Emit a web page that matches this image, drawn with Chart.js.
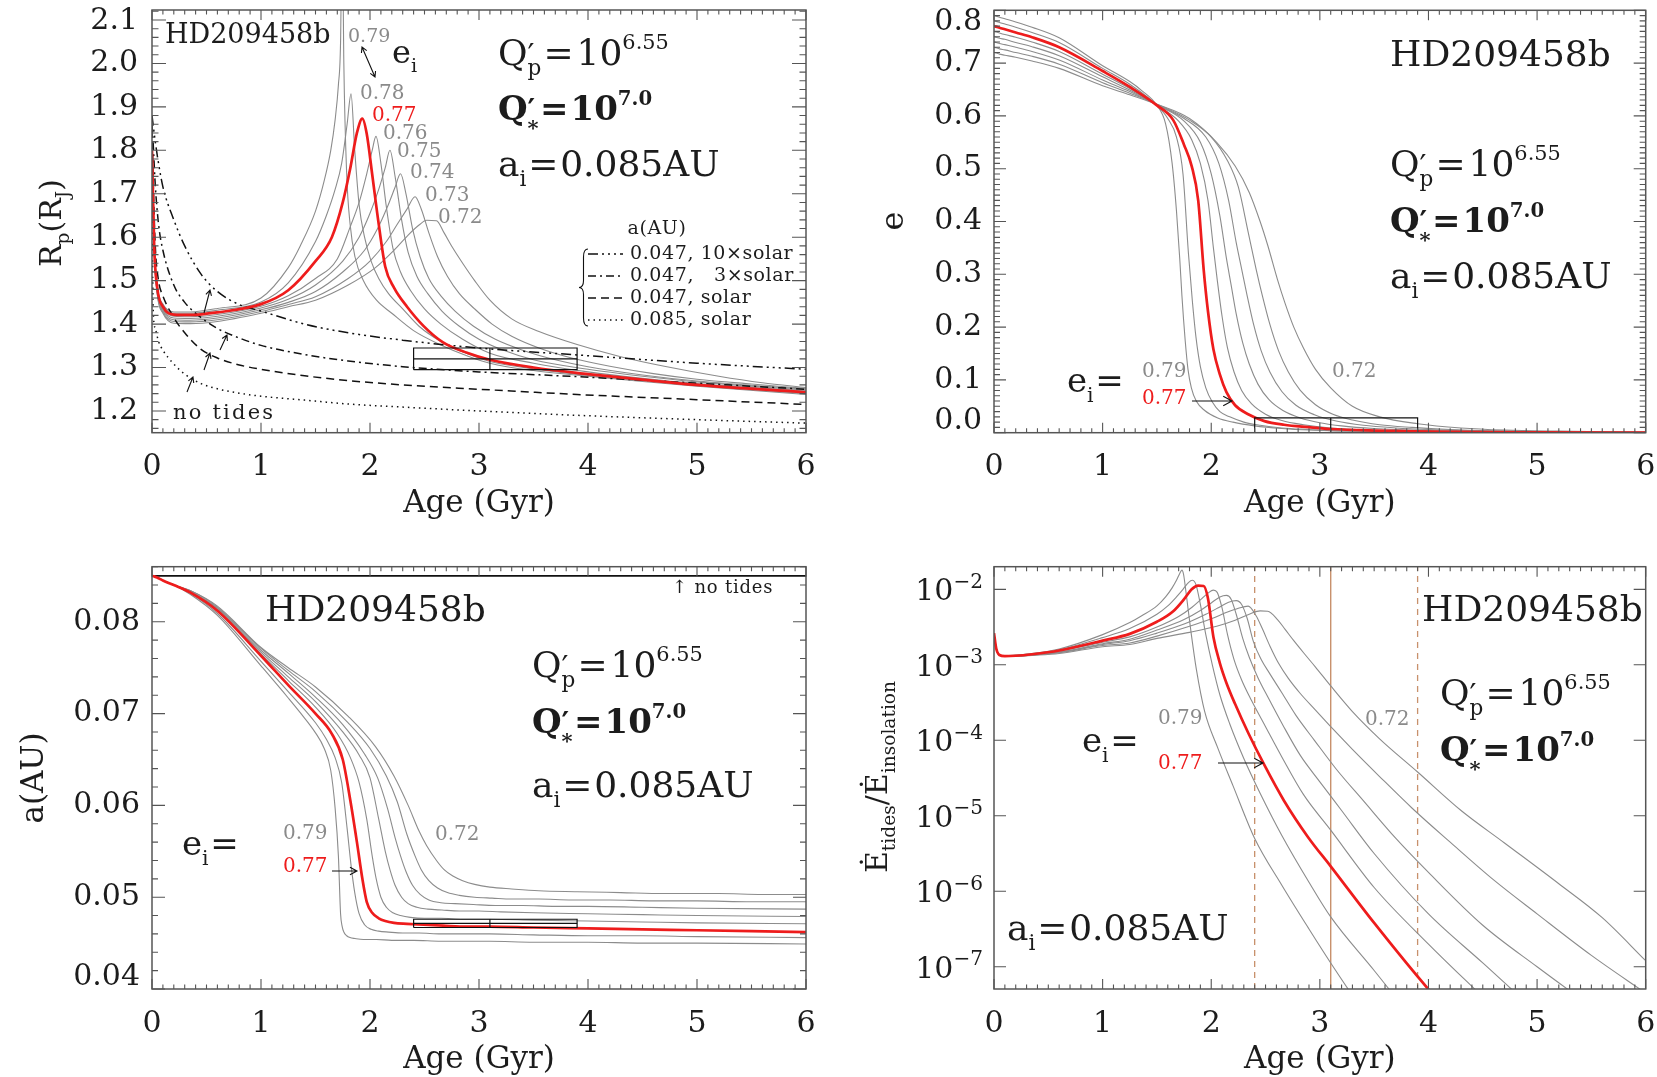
<!DOCTYPE html>
<html>
<head>
<meta charset="utf-8">
<title>HD209458b tidal evolution</title>
<script src="https://cdn.jsdelivr.net/npm/chart.js@4.4.1/dist/chart.umd.min.js"></script>
<style>
html,body{margin:0;padding:0;background:#fff;}
body{width:1657px;height:1077px;position:relative;overflow:hidden;}
.pane{position:absolute;}
</style>
</head>
<body>
<div class="pane" id="w1" style="left:0px;top:0px;width:828px;height:540px"><canvas id="c1"></canvas></div>
<div class="pane" id="w2" style="left:830px;top:0px;width:827px;height:540px"><canvas id="c2"></canvas></div>
<div class="pane" id="w3" style="left:0px;top:540px;width:828px;height:537px"><canvas id="c3"></canvas></div>
<div class="pane" id="w4" style="left:830px;top:540px;width:827px;height:537px"><canvas id="c4"></canvas></div>
<script>
// ---------------- DATA ----------------
const ECC_LABELS = ['0.79','0.78','0.77','0.76','0.75','0.74','0.73','0.72'];

const age_079 = [0,0.02,0.05,0.1,0.2,0.35,0.6,1.0,1.25,1.36,1.5,1.58,1.64,1.68,1.71,1.73,1.745,1.76,1.786,1.817,1.862,1.94,2.06,2.2,2.4,2.65,2.9,3.1,3.5,4.0,4.5,5.0,6.0];
const R_079 = [1.80,1.585,1.485,1.446,1.428,1.428,1.436,1.46,1.53,1.58,1.66,1.73,1.80,1.87,1.95,2.05,2.35,2.0,1.746,1.631,1.555,1.50,1.455,1.425,1.385,1.352,1.326,1.31,1.293,1.28,1.268,1.257,1.238];
const e_079 = [0.79,0.789,0.787,0.784,0.778,0.768,0.748,0.695,0.665,0.648,0.62,0.585,0.51,0.42,0.33,0.26,0.215,0.175,0.12,0.085,0.06,0.042,0.028,0.02,0.013,0.008,0.005,0.004,0.002,0.001,0.0006,0.0003,0.0001];
const a_079 = [0.085,0.08495,0.0848,0.0845,0.0840,0.0830,0.0807,0.0752,0.0717,0.0701,0.0679,0.0662,0.0638,0.0597,0.0545,0.0482,0.0468,0.0462,0.0458,0.0456,0.0455,0.0454,0.0454,0.0453,0.0453,0.0452,0.0452,0.0452,0.0451,0.0451,0.0450,0.0450,0.0449];
const logE_079 = [-2.58,-2.78,-2.87,-2.88,-2.87,-2.85,-2.79,-2.60,-2.44,-2.35,-2.22,-2.10,-1.98,-1.88,-1.79,-1.745,-1.80,-1.95,-2.25,-2.6,-3.05,-3.62,-4.1,-4.6,-5.3,-5.92,-6.5,-6.95,-7.8,-8.8,-9.7,-10.5,-12];

const age_078 = [0,0.02,0.05,0.1,0.2,0.35,0.6,1.0,1.25,1.5,1.6,1.68,1.74,1.79,1.826,1.86,1.9,1.95,2.01,2.08,2.17,2.3,2.45,2.65,2.9,3.1,3.5,4.0,4.5,5.0,6.0];
const R_078 = [1.80,1.583,1.483,1.444,1.425,1.425,1.432,1.451,1.495,1.59,1.65,1.71,1.77,1.86,1.93,1.80,1.675,1.60,1.545,1.505,1.47,1.435,1.395,1.36,1.331,1.314,1.297,1.282,1.27,1.259,1.240];
const e_078 = [0.78,0.779,0.777,0.774,0.768,0.758,0.739,0.69,0.66,0.62,0.595,0.56,0.49,0.34,0.25,0.18,0.125,0.085,0.058,0.04,0.03,0.02,0.014,0.009,0.006,0.004,0.0025,0.0013,0.0007,0.0004,0.0001];
const a_078 = [0.085,0.08495,0.0848,0.0845,0.0840,0.0831,0.0809,0.0757,0.0724,0.0690,0.0672,0.0652,0.0625,0.0575,0.0535,0.0505,0.0482,0.0470,0.0465,0.0463,0.0462,0.0461,0.0461,0.0460,0.0460,0.0460,0.0459,0.0458,0.0458,0.0457,0.0456];
const logE_078 = [-2.58,-2.78,-2.87,-2.883,-2.875,-2.855,-2.80,-2.64,-2.52,-2.33,-2.22,-2.1,-2.0,-1.91,-1.88,-1.94,-2.2,-2.6,-3.0,-3.4,-3.78,-4.24,-4.7,-5.26,-5.88,-6.34,-7.05,-7.95,-8.8,-9.6,-11];

const age_077 = [0,0.02,0.05,0.1,0.2,0.35,0.6,1.0,1.25,1.5,1.65,1.75,1.82,1.88,1.93,1.97,2.02,2.08,2.14,2.22,2.34,2.49,2.67,2.89,3.1,3.5,4.0,4.5,5.0,6.0];
const R_077 = [1.80,1.58,1.48,1.44,1.422,1.421,1.427,1.446,1.478,1.545,1.60,1.68,1.76,1.84,1.873,1.838,1.745,1.63,1.532,1.484,1.44,1.396,1.358,1.334,1.318,1.30,1.285,1.272,1.26,1.243];
const e_077 = [0.77,0.769,0.767,0.764,0.758,0.749,0.73,0.685,0.655,0.62,0.592,0.545,0.505,0.44,0.31,0.23,0.158,0.11,0.077,0.052,0.035,0.022,0.015,0.0105,0.007,0.004,0.002,0.001,0.0006,0.0002];
const a_077 = [0.085,0.08495,0.0848,0.0845,0.0840,0.0832,0.0812,0.0763,0.0731,0.0700,0.0678,0.0650,0.0605,0.0560,0.0520,0.0495,0.0483,0.0477,0.0474,0.0472,0.0471,0.0470,0.0469,0.0468,0.0468,0.0467,0.0466,0.0465,0.0464,0.0462];
const logE_077 = [-2.58,-2.78,-2.87,-2.885,-2.88,-2.86,-2.81,-2.68,-2.59,-2.43,-2.29,-2.13,-2.0,-1.95,-1.955,-2.12,-2.63,-2.98,-3.24,-3.52,-3.9,-4.33,-4.8,-5.28,-5.67,-6.42,-7.3,-8.1,-8.9,-10.4];

const age_076 = [0,0.02,0.05,0.1,0.2,0.35,0.6,1.0,1.25,1.5,1.7,1.82,1.9,1.97,2.02,2.055,2.1,2.15,2.21,2.28,2.37,2.5,2.65,2.85,3.1,3.5,4.0,4.5,5.0,6.0];
const R_076 = [1.80,1.578,1.477,1.437,1.418,1.417,1.422,1.441,1.465,1.505,1.55,1.625,1.68,1.746,1.80,1.832,1.77,1.67,1.575,1.52,1.478,1.435,1.40,1.365,1.333,1.31,1.29,1.275,1.263,1.246];
const e_076 = [0.76,0.759,0.757,0.754,0.749,0.74,0.722,0.679,0.652,0.62,0.59,0.555,0.51,0.44,0.35,0.29,0.22,0.16,0.115,0.08,0.055,0.035,0.023,0.015,0.009,0.005,0.0025,0.0013,0.0007,0.0002];
const a_076 = [0.085,0.08495,0.0848,0.0845,0.0840,0.0832,0.0813,0.0765,0.0736,0.0707,0.0678,0.0652,0.0625,0.0585,0.0545,0.0521,0.0500,0.0489,0.0483,0.0480,0.0478,0.0477,0.0477,0.0476,0.0476,0.0475,0.0474,0.0473,0.0472,0.0471];
const logE_076 = [-2.58,-2.78,-2.87,-2.885,-2.882,-2.865,-2.82,-2.70,-2.63,-2.50,-2.36,-2.24,-2.14,-2.05,-2.01,-2.04,-2.25,-2.6,-2.93,-3.2,-3.47,-3.82,-4.22,-4.72,-5.19,-5.95,-6.7,-7.4,-8.1,-9.4];

const age_075 = [0,0.02,0.05,0.1,0.2,0.35,0.6,1.0,1.25,1.5,1.75,1.9,2.0,2.08,2.14,2.183,2.23,2.29,2.35,2.43,2.53,2.66,2.82,3.0,3.2,3.5,4.0,4.5,5.0,6.0];
const R_075 = [1.80,1.576,1.474,1.434,1.414,1.413,1.418,1.437,1.457,1.49,1.545,1.60,1.655,1.71,1.76,1.80,1.74,1.64,1.565,1.51,1.47,1.43,1.395,1.365,1.342,1.318,1.296,1.28,1.267,1.248];
const e_075 = [0.75,0.749,0.747,0.745,0.739,0.731,0.714,0.674,0.649,0.621,0.59,0.55,0.49,0.41,0.33,0.28,0.225,0.17,0.13,0.092,0.063,0.042,0.028,0.019,0.013,0.008,0.004,0.002,0.0012,0.0004];
const a_075 = [0.085,0.08495,0.0848,0.0845,0.0840,0.0833,0.0814,0.0767,0.0740,0.0713,0.0680,0.0655,0.0630,0.0585,0.0550,0.0530,0.0513,0.0500,0.0493,0.0489,0.0487,0.0486,0.0485,0.0485,0.0484,0.0483,0.0482,0.0481,0.0480,0.0479];
const logE_075 = [-2.58,-2.78,-2.87,-2.885,-2.883,-2.868,-2.83,-2.72,-2.66,-2.54,-2.40,-2.28,-2.18,-2.10,-2.08,-2.13,-2.33,-2.65,-2.9,-3.17,-3.45,-3.8,-4.2,-4.55,-4.93,-5.5,-6.3,-6.95,-7.6,-8.8];

const age_074 = [0,0.02,0.05,0.1,0.2,0.35,0.6,1.0,1.25,1.5,1.75,1.95,2.07,2.16,2.23,2.28,2.33,2.39,2.46,2.54,2.65,2.78,2.95,3.15,3.4,3.7,4.0,4.5,5.0,6.0];
const R_074 = [1.80,1.574,1.471,1.431,1.41,1.409,1.414,1.433,1.45,1.475,1.52,1.57,1.62,1.67,1.715,1.746,1.70,1.62,1.555,1.505,1.465,1.43,1.395,1.365,1.34,1.318,1.302,1.283,1.269,1.25];
const e_074 = [0.74,0.739,0.737,0.735,0.73,0.722,0.706,0.668,0.646,0.621,0.595,0.56,0.51,0.44,0.36,0.31,0.26,0.205,0.155,0.115,0.078,0.052,0.034,0.022,0.014,0.009,0.006,0.003,0.0018,0.0006];
const a_074 = [0.085,0.08495,0.0848,0.0845,0.0840,0.0833,0.0815,0.0769,0.0744,0.0718,0.0688,0.0656,0.0630,0.0597,0.0565,0.0545,0.0528,0.0513,0.0503,0.0497,0.0494,0.0493,0.0492,0.0491,0.0491,0.0490,0.0490,0.0489,0.0488,0.0487];
const logE_074 = [-2.58,-2.78,-2.87,-2.885,-2.884,-2.87,-2.835,-2.73,-2.68,-2.58,-2.46,-2.33,-2.24,-2.17,-2.15,-2.2,-2.38,-2.7,-2.93,-3.12,-3.37,-3.67,-4.0,-4.38,-4.8,-5.3,-5.75,-6.45,-7.0,-8.05];

const age_073 = [0,0.02,0.05,0.1,0.2,0.35,0.6,1.0,1.25,1.5,1.8,2.0,2.15,2.25,2.34,2.413,2.47,2.54,2.62,2.71,2.82,2.96,3.12,3.3,3.55,3.85,4.2,4.6,5.0,5.5,6.0];
const R_073 = [1.80,1.572,1.468,1.428,1.406,1.405,1.41,1.429,1.445,1.463,1.505,1.545,1.59,1.63,1.665,1.693,1.665,1.61,1.555,1.51,1.47,1.435,1.40,1.372,1.345,1.322,1.303,1.286,1.273,1.262,1.252];
const e_073 = [0.73,0.729,0.727,0.725,0.72,0.713,0.698,0.663,0.643,0.622,0.592,0.56,0.515,0.465,0.38,0.31,0.26,0.205,0.155,0.115,0.08,0.053,0.035,0.024,0.015,0.01,0.006,0.0035,0.002,0.0012,0.0007];
const a_073 = [0.085,0.08495,0.0848,0.0845,0.0840,0.0834,0.0816,0.0771,0.0747,0.0724,0.0690,0.0662,0.0632,0.0604,0.0568,0.0545,0.0530,0.0518,0.0510,0.0505,0.0502,0.0500,0.0499,0.0498,0.0498,0.0497,0.0497,0.0496,0.0496,0.0495,0.0495];
const logE_073 = [-2.58,-2.78,-2.87,-2.885,-2.885,-2.872,-2.84,-2.745,-2.71,-2.62,-2.49,-2.39,-2.3,-2.25,-2.222,-2.35,-2.52,-2.75,-2.98,-3.18,-3.38,-3.6,-3.85,-4.12,-4.48,-4.9,-5.35,-5.85,-6.3,-6.85,-7.35];

const age_072 = [0,0.02,0.05,0.1,0.2,0.35,0.6,1.0,1.25,1.5,1.8,2.05,2.22,2.35,2.45,2.52,2.61,2.68,2.76,2.85,2.96,3.1,3.3,3.55,3.9,4.3,4.7,5.2,5.6,6.0];
const R_072 = [1.80,1.57,1.465,1.425,1.402,1.401,1.406,1.425,1.44,1.455,1.49,1.53,1.57,1.605,1.628,1.639,1.638,1.61,1.575,1.54,1.50,1.455,1.412,1.383,1.353,1.325,1.303,1.28,1.265,1.254];
const e_072 = [0.72,0.719,0.717,0.715,0.711,0.704,0.69,0.657,0.64,0.622,0.595,0.55,0.505,0.455,0.40,0.355,0.29,0.245,0.2,0.16,0.12,0.085,0.05,0.03,0.017,0.009,0.005,0.003,0.002,0.001];
const a_072 = [0.085,0.08495,0.0848,0.0845,0.0840,0.0834,0.0817,0.0772,0.0750,0.0729,0.0697,0.0664,0.0632,0.0600,0.0572,0.0556,0.0540,0.0530,0.0523,0.0518,0.0514,0.0511,0.0509,0.0507,0.0506,0.0505,0.0504,0.0504,0.0503,0.0503];
const logE_072 = [-2.58,-2.78,-2.87,-2.885,-2.886,-2.875,-2.85,-2.76,-2.73,-2.65,-2.57,-2.49,-2.41,-2.33,-2.285,-2.29,-2.4,-2.53,-2.68,-2.84,-3.03,-3.28,-3.62,-3.98,-4.42,-4.93,-5.36,-5.9,-6.35,-6.92];

// no-tides reference radius curves (top-left panel)
const REF_AGE = [0,0.01,0.03,0.06,0.1,0.2,0.3,0.45,0.6,0.8,1.0,1.4,1.8,2.3,3.0,3.9,5.0,6.0];
const R_047_10X = [1.88,1.86,1.82,1.77,1.716,1.64,1.58,1.515,1.475,1.445,1.43,1.40,1.38,1.363,1.345,1.329,1.31,1.296];
const R_047_3X  = [1.86,1.82,1.72,1.63,1.57,1.49,1.45,1.415,1.39,1.368,1.351,1.33,1.315,1.302,1.29,1.279,1.264,1.25];
const R_047_1X  = [1.85,1.74,1.58,1.50,1.465,1.415,1.38,1.342,1.322,1.306,1.296,1.281,1.27,1.26,1.25,1.238,1.226,1.215];
const R_085_1X  = [1.75,1.44,1.39,1.36,1.34,1.308,1.285,1.263,1.251,1.241,1.234,1.225,1.216,1.209,1.2,1.19,1.18,1.172];

// observational constraint boxes
const OBS_AGE = [2.4, 3.1, 3.9];
const OBS_R = [1.295, 1.32, 1.345];
const OBS_E = [0, 0.028];
const OBS_A = [0.0467, 0.04715, 0.0476];
const A_NO_TIDES = 0.085;
const E_TICK_EXP = [-2,-3,-4,-5,-6,-7];

// ---------------- STYLE / HELPERS ----------------
const FONT = '"DejaVu Serif", "Liberation Serif", serif';
const INK = '#1c1c1c', FRAME = '#555555', GREY = '#8c8c8c', RED = '#ee1c1c', BROWN = '#c8916c', LGREY = '#8a8a8a';
const TICKFONT = 30;
Chart.defaults.font.family = FONT;
Chart.defaults.color = INK;

const AGES = [age_079, age_078, age_077, age_076, age_075, age_074, age_073, age_072];
const R_ALL = [R_079, R_078, R_077, R_076, R_075, R_074, R_073, R_072];
const E_ALL = [e_079, e_078, e_077, e_076, e_075, e_074, e_073, e_072];
const A_ALL = [a_079, a_078, a_077, a_076, a_075, a_074, a_073, a_072];
const L_ALL = [logE_079, logE_078, logE_077, logE_076, logE_075, logE_074, logE_073, logE_072];

function pts(xs, ys, f) { return xs.map((x, i) => ({x: x, y: f ? f(ys[i]) : ys[i]})); }
function curveSets(vals, f) {
  return ECC_LABELS.map((lab, k) => {
    const red = lab === '0.77';
    return { label: 'e_i=' + lab, data: pts(AGES[k], vals[k], f),
      borderColor: red ? RED : GREY, borderWidth: red ? 2.7 : 1.1, order: red ? -1 : 1,
      pointRadius: 0, fill: false, cubicInterpolationMode: 'monotone', clip: 0 };
  });
}
function seg(data, color, width, dash, order) {
  return { data: data, borderColor: color || '#111', borderWidth: width || 1.2, borderDash: dash || [],
    pointRadius: 0, fill: false, tension: 0, order: order === undefined ? -2 : order, clip: 0 };
}
function boxSets(yv) {
  const lo = yv[0], hi = yv[yv.length - 1];
  const a0 = OBS_AGE[0], ac = OBS_AGE[1], a1 = OBS_AGE[2];
  const s = [ seg([{x:a0,y:lo},{x:a1,y:lo},{x:a1,y:hi},{x:a0,y:hi},{x:a0,y:lo}]),
              seg([{x:ac,y:lo},{x:ac,y:hi}]) ];
  if (yv.length === 3) s.push(seg([{x:a0,y:yv[1]},{x:a1,y:yv[1]}]));
  return s;
}
function refSet(vals, dash) {
  return { data: pts(REF_AGE, vals), borderColor: '#111', borderWidth: 1.5, borderDash: dash,
    pointRadius: 0, fill: false, cubicInterpolationMode: 'monotone', order: 0, clip: 0 };
}

function richWidth(ctx, segs, size, weight) {
  let w = 0;
  for (const g of segs) {
    ctx.font = weight + ' ' + (size * (g.s || 1)) + 'px ' + FONT;
    w += (g.gap || 0) * size;
    w += (g.adv !== undefined) ? g.adv * size : ctx.measureText(g.t).width;
  }
  return w;
}
function drawRich(ctx, x, y, segs, size, color, weight, align) {
  weight = weight || 'normal';
  const w = richWidth(ctx, segs, size, weight);
  let cx = align === 'center' ? x - w / 2 : (align === 'right' ? x - w : x);
  ctx.fillStyle = color; ctx.textBaseline = 'alphabetic'; ctx.textAlign = 'left';
  for (const g of segs) {
    ctx.font = weight + ' ' + (size * (g.s || 1)) + 'px ' + FONT;
    cx += (g.gap || 0) * size;
    ctx.fillText(g.t, cx, y + (g.dy || 0) * size);
    cx += (g.adv !== undefined) ? g.adv * size : ctx.measureText(g.t).width;
  }
}
function plain(ctx, t, x, y, size, color, weight, spacing, align) {
  ctx.save();
  ctx.font = (weight || 'normal') + ' ' + size + 'px ' + FONT;
  if (spacing && 'letterSpacing' in ctx) ctx.letterSpacing = spacing + 'px';
  ctx.fillStyle = color; ctx.textAlign = align || 'left'; ctx.textBaseline = 'middle';
  ctx.fillText(t, x, y);
  ctx.restore();
}
function arrow(ctx, x1, y1, x2, y2, h, both, color, lw) {
  ctx.save(); ctx.strokeStyle = color || '#111'; ctx.lineWidth = lw || 1.1;
  const ang = Math.atan2(y2 - y1, x2 - x1);
  ctx.beginPath(); ctx.moveTo(x1, y1); ctx.lineTo(x2, y2);
  const head = (x, y, a) => {
    ctx.moveTo(x - h * Math.cos(a - 0.5), y - h * Math.sin(a - 0.5));
    ctx.lineTo(x, y);
    ctx.lineTo(x - h * Math.cos(a + 0.5), y - h * Math.sin(a + 0.5));
  };
  head(x2, y2, ang); if (both) head(x1, y1, ang + Math.PI);
  ctx.stroke(); ctx.restore();
}
function rotTitle(ctx, bx, cy, segs, size) {
  ctx.save(); ctx.translate(bx, cy); ctx.rotate(-Math.PI / 2);
  drawRich(ctx, 0, 0, segs, size, INK, 'normal', 'center');
  ctx.restore();
}
function linTicks(min, max, minor, ratio, Lmaj, Lmin) {
  const out = [];
  for (let i = Math.ceil(min / minor - 1e-6); i <= Math.floor(max / minor + 1e-6); i++)
    out.push([i * minor, i % ratio === 0 ? Lmaj : Lmin]);
  return out;
}

const QP = [{t:'Q'},{t:'\u2032',s:0.85,adv:0},{t:'p',s:0.6,dy:0.28},{t:'=',gap:0.06},{t:'10',gap:0.08},{t:'6.55',s:0.58,dy:-0.44}];
const QS = [{t:'Q'},{t:'\u2032',s:0.85,adv:0},{t:'*',s:0.62,dy:0.45},{t:'=',gap:0.04},{t:'10',gap:0.06},{t:'7.0',s:0.58,dy:-0.44}];
const AI = [{t:'a'},{t:'i',s:0.6,dy:0.28},{t:'=',gap:0.05},{t:'0.085AU',gap:0.05}];
const EI = [{t:'e'},{t:'i',s:0.6,dy:0.28},{t:'=',gap:0.05}];

// y labels at the very ends of an axis are nudged inside the frame (as in the original figure)
function edgeLabels(ctx, chart, off, vals, dec, pad) {
  const a = chart.chartArea, ys = chart.scales.y;
  vals.forEach(v => {
    let y = ys.getPixelForValue(v);
    y = Math.min(Math.max(y, a.top + 11.5), a.bottom - 11.5);
    plain(ctx, v.toFixed(dec), a.left - pad + off[0], y + off[1], TICKFONT, INK, 'normal', 0, 'right');
  });
}

function framePlugin(id, off, yTicks, extras, texts) {
  return {
    id: 'deco' + id,
    afterDatasetsDraw(chart) {
      const ctx = chart.ctx, a = chart.chartArea, xs = chart.scales.x, ys = chart.scales.y;
      ctx.save();
      ctx.strokeStyle = FRAME; ctx.lineWidth = 1.1;
      ctx.beginPath();
      for (let i = 0; i <= 60; i++) {
        const x = xs.getPixelForValue(i / 10), L = (i % 10 === 0) ? 10 : 4.5;
        ctx.moveTo(x, a.bottom); ctx.lineTo(x, a.bottom - L);
        ctx.moveTo(x, a.top); ctx.lineTo(x, a.top + L);
      }
      yTicks.forEach(([v, L]) => {
        const y = ys.getPixelForValue(v);
        ctx.moveTo(a.left, y); ctx.lineTo(a.left + L, y);
        ctx.moveTo(a.right, y); ctx.lineTo(a.right - L, y);
      });
      ctx.stroke();
      ctx.lineWidth = 1.5;
      ctx.strokeRect(a.left, a.top, a.right - a.left, a.bottom - a.top);
      ctx.restore();
    },
    afterDraw(chart) {
      const ctx = chart.ctx;
      ctx.save(); ctx.translate(-off[0], -off[1]);
      if (extras) extras(ctx, chart);
      if (texts) texts(ctx, chart);
      ctx.restore();
    }
  };
}

function xScale(h, tpad) {
  return { type: 'linear', min: 0, max: 6,
    afterFit: s => { s.height = h; s.paddingLeft = 0; s.paddingRight = 0; },
    ticks: { stepSize: 1, color: INK, font: {family: FONT, size: TICKFONT}, padding: 17, maxRotation: 0, autoSkip: false, includeBounds: false },
    grid: { display: false, drawTicks: false }, border: { display: false },
    title: { display: true, text: 'Age (Gyr)', color: INK, font: {family: FONT, size: 31, lineHeight: 1.1}, padding: {top: 0, bottom: tpad} } };
}
function yLin(w, min, max, step, dec, pad, edge) {
  return { type: 'linear', min: min, max: max,
    afterFit: s => { s.width = w; s.paddingTop = 0; s.paddingBottom = 0; },
    ticks: { stepSize: step, includeBounds: false, color: INK, font: {family: FONT, size: TICKFONT}, padding: pad,
      callback: v => edge.some(q => Math.abs(q - v) < 1e-9) ? '' : Number(v).toFixed(dec) },
    grid: { display: false, drawTicks: false }, border: { display: false } };
}
function baseOpts(scales, pad) {
  return { responsive: true, maintainAspectRatio: false, animation: false, events: [],
    layout: { padding: pad },
    plugins: { legend: { display: false }, tooltip: { enabled: false } },
    scales: scales };
}

// ---------------- PANEL 1 : radius ----------------
const EDGE1 = [2.1];
new Chart(document.getElementById('c1'), {
  type: 'line',
  data: { datasets: [
    ...curveSets(R_ALL),
    refSet(R_047_10X, [10,4,2,4,2,4,2,4]),
    refSet(R_047_3X, [8,4,2,4]),
    refSet(R_047_1X, [8,5]),
    refSet(R_085_1X, [1.5,4]),
    ...boxSets(OBS_R)
  ]},
  options: baseOpts({ x: xScale(107.3, 19), y: yLin(152, 1.15, 2.123, 0.1, 1, 14, EDGE1) },
                    {top: 10, right: 22, left: 0, bottom: 0}),
  plugins: [framePlugin(1, [0,0], linTicks(1.15, 2.123, 0.02, 5, 14, 6.5),
    (ctx) => {
      arrow(ctx, 204, 313, 210, 290, 6); arrow(ctx, 220, 350, 227, 335, 6);
      arrow(ctx, 204, 370, 210, 353, 6); arrow(ctx, 187, 392, 193, 377, 6);
      arrow(ctx, 362, 47, 375, 77, 6, true);
      const rows = [254, 276, 298, 320], dashes = [[10,4,2,4,2,4,2,4],[8,4,2,4],[8,5],[1.5,4]];
      ctx.save(); ctx.strokeStyle = '#111'; ctx.lineWidth = 1.4;
      rows.forEach((y, i) => { ctx.setLineDash(dashes[i]); ctx.beginPath(); ctx.moveTo(588, y); ctx.lineTo(623, y); ctx.stroke(); });
      ctx.setLineDash([]); ctx.lineWidth = 1.1;
      const x = 579, w = 9, y1 = 249, y2 = 326, ym = (y1 + y2) / 2;
      ctx.beginPath(); ctx.moveTo(x + w, y1);
      ctx.quadraticCurveTo(x + w / 2, y1, x + w / 2, y1 + 8); ctx.lineTo(x + w / 2, ym - 7);
      ctx.quadraticCurveTo(x + w / 2, ym, x, ym); ctx.quadraticCurveTo(x + w / 2, ym, x + w / 2, ym + 7);
      ctx.lineTo(x + w / 2, y2 - 8); ctx.quadraticCurveTo(x + w / 2, y2, x + w, y2); ctx.stroke();
      ctx.restore();
    },
    (ctx, chart) => {
      edgeLabels(ctx, chart, [0,0], EDGE1, 1, 14);
      drawRich(ctx, 165, 43, [{t:'HD209458b'}], 27, INK);
      plain(ctx, '0.79', 348, 37, 19, LGREY);
      drawRich(ctx, 392, 63, [{t:'e'},{t:'i',s:0.6,dy:0.28}], 32, INK);
      plain(ctx, '0.78', 360, 94, 20, LGREY);
      plain(ctx, '0.77', 372, 116, 20, RED);
      plain(ctx, '0.76', 383, 134, 20, LGREY);
      plain(ctx, '0.75', 397, 152, 20, LGREY);
      plain(ctx, '0.74', 410, 173, 20, LGREY);
      plain(ctx, '0.73', 425, 196, 20, LGREY);
      plain(ctx, '0.72', 438, 218, 20, LGREY);
      drawRich(ctx, 498, 65, QP, 36, INK);
      drawRich(ctx, 498, 120, QS, 34, INK, 'bold');
      drawRich(ctx, 498, 176, AI, 36, INK);
      plain(ctx, 'a(AU)', 657, 229, 19, INK, 'normal', 0.6, 'center');
      plain(ctx, '0.047, 10\u00d7solar', 630, 254, 19, INK, 'normal', 0.6);
      plain(ctx, '0.047,   3\u00d7solar', 630, 276, 19, INK, 'normal', 0.6);
      plain(ctx, '0.047, solar', 630, 298, 19, INK, 'normal', 0.6);
      plain(ctx, '0.085, solar', 630, 320, 19, INK, 'normal', 0.6);
      plain(ctx, 'no tides', 173, 414, 21, INK, 'normal', 2.2);
      rotTitle(ctx, 61, 223, [{t:'R'},{t:'p',s:0.62,dy:0.28},{t:'(R'},{t:'J',s:0.62,dy:0.28},{t:')'}], 30);
    })]
});

// ---------------- PANEL 2 : eccentricity ----------------
const EDGE2 = [0, 0.8];
new Chart(document.getElementById('c2'), {
  type: 'line',
  data: { datasets: [ ...curveSets(E_ALL), ...boxSets(OBS_E) ] },
  options: baseOpts({ x: xScale(107.3, 19), y: yLin(164, 0, 0.8, 0.1, 1, 12, EDGE2) },
                    {top: 10.3, right: 11.3, left: 0, bottom: 0}),
  plugins: [framePlugin(2, [830,0], linTicks(0, 0.8, 0.01, 10, 12, 6),
    (ctx) => { arrow(ctx, 1192, 401, 1232, 401, 10); },
    (ctx, chart) => {
      edgeLabels(ctx, chart, [830,0], EDGE2, 1, 12);
      drawRich(ctx, 1390, 66, [{t:'HD209458b'}], 36, INK);
      drawRich(ctx, 1390, 176, QP, 36, INK);
      drawRich(ctx, 1390, 232, QS, 34, INK, 'bold');
      drawRich(ctx, 1390, 288, AI, 36, INK);
      drawRich(ctx, 1067, 392, EI, 34, INK);
      plain(ctx, '0.79', 1142, 372, 20, LGREY);
      plain(ctx, '0.77', 1142, 399, 20, RED);
      plain(ctx, '0.72', 1332, 372, 20, LGREY);
      rotTitle(ctx, 903, 221, [{t:'e'}], 32);
    })]
});

// ---------------- PANEL 3 : semi-major axis ----------------
const EDGE3 = [0.04];
new Chart(document.getElementById('c3'), {
  type: 'line',
  data: { datasets: [ ...curveSets(A_ALL),
    seg([{x:0,y:A_NO_TIDES},{x:6,y:A_NO_TIDES}], '#111', 1.6, [], 0),
    ...boxSets(OBS_A) ] },
  options: baseOpts({ x: xScale(88, 0), y: yLin(152, 0.04, 0.086, 0.01, 2, 12, EDGE3) },
                    {top: 26.7, right: 22, left: 0, bottom: 0}),
  plugins: [framePlugin(3, [0,540], linTicks(0.04, 0.086, 0.002, 5, 13, 6),
    (ctx) => { arrow(ctx, 332, 871, 357, 871, 8); },
    (ctx, chart) => {
      edgeLabels(ctx, chart, [0,540], EDGE3, 2, 12);
      drawRich(ctx, 265, 621, [{t:'HD209458b'}], 36, INK);
      plain(ctx, '\u2191 no tides', 672, 588, 18, INK, 'normal', 0.8);
      drawRich(ctx, 532, 677, QP, 36, INK);
      drawRich(ctx, 532, 733, QS, 34, INK, 'bold');
      drawRich(ctx, 532, 797, AI, 36, INK);
      drawRich(ctx, 182, 855, EI, 34, INK);
      plain(ctx, '0.79', 283, 834, 20, LGREY);
      plain(ctx, '0.77', 283, 867, 20, RED);
      plain(ctx, '0.72', 435, 835, 20, LGREY);
      rotTitle(ctx, 43, 778, [{t:'a(AU)'}], 31);
    })]
});

// ---------------- PANEL 4 : tidal heating / insolation ----------------
const Y4MIN = Math.pow(10, -7.295), Y4MAX = Math.pow(10, -1.70);
new Chart(document.getElementById('c4'), {
  type: 'line',
  data: { datasets: [ ...curveSets(L_ALL, v => Math.pow(10, v)),
    seg([{x:OBS_AGE[0],y:Y4MIN},{x:OBS_AGE[0],y:Y4MAX}], BROWN, 1.3, [6,5], 2),
    seg([{x:OBS_AGE[1],y:Y4MIN},{x:OBS_AGE[1],y:Y4MAX}], BROWN, 1.4, [], 2),
    seg([{x:OBS_AGE[2],y:Y4MIN},{x:OBS_AGE[2],y:Y4MAX}], BROWN, 1.3, [6,5], 2) ] },
  options: baseOpts({ x: xScale(88, 0),
    y: { type: 'logarithmic', min: Y4MIN, max: Y4MAX,
      afterFit: s => { s.width = 164; s.paddingTop = 0; s.paddingBottom = 0; },
      afterBuildTicks: s => { s.ticks = E_TICK_EXP.map(p => ({value: Math.pow(10, p)})); },
      ticks: { display: false }, grid: { display: false, drawTicks: false }, border: { display: false } } },
    {top: 26.7, right: 11.3, left: 0, bottom: 0}),
  plugins: [framePlugin(4, [830,540], E_TICK_EXP.map(p => [Math.pow(10, p), 12]),
    (ctx) => { arrow(ctx, 1218, 763, 1263, 763, 10); },
    (ctx, chart) => {
      const ys = chart.scales.y, left = chart.chartArea.left + 830;
      E_TICK_EXP.forEach(p => {
        const y = ys.getPixelForValue(Math.pow(10, p)) + 540;
        drawRich(ctx, left - 11, y + 11, [{t:'10'},{t:'\u2212' + (-p), s:0.67, dy:-0.42}], 30, INK, 'normal', 'right');
      });
      drawRich(ctx, 1422, 621, [{t:'HD209458b'}], 36, INK);
      drawRich(ctx, 1440, 705, QP, 36, INK);
      drawRich(ctx, 1440, 761, QS, 34, INK, 'bold');
      drawRich(ctx, 1007, 940, AI, 36, INK);
      drawRich(ctx, 1082, 752, EI, 34, INK);
      plain(ctx, '0.79', 1158, 719, 20, LGREY);
      plain(ctx, '0.77', 1158, 764, 20, RED);
      plain(ctx, '0.72', 1365, 720, 20, LGREY);
      rotTitle(ctx, 887, 777, [{t:'\u0116'},{t:'tides',s:0.62,dy:0.28},{t:'/'},{t:'\u0116'},{t:'insolation',s:0.62,dy:0.28}], 30);
    })]
});
</script>
</body>
</html>
